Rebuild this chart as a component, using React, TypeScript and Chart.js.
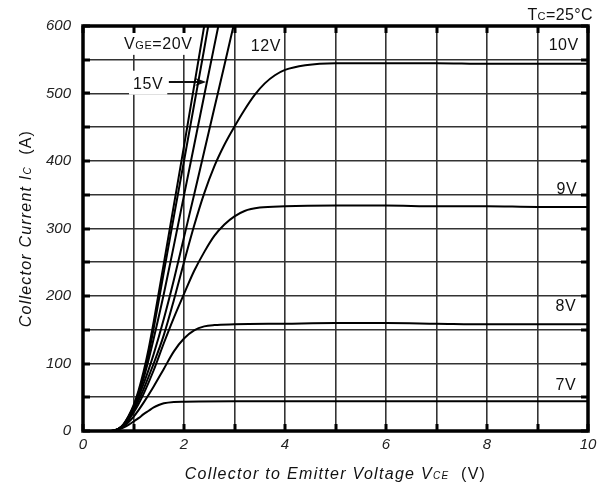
import React, { useEffect, useRef } from 'react';
import { Chart, registerables } from 'chart.js';

Chart.register(...registerables);

// ---- axes ----
const X_MIN = 0;
const X_MAX = 10;
const X_STEP = 1;
const X_LABEL_EVERY = 2;
const Y_MIN = 0;
const Y_MAX = 600;
const Y_STEP = 50;
const Y_LABEL_EVERY = 100;

// ---- series (VCE [V], IC [A]) ----
const vge20V: [number, number][] = [
  [0, 0], [0.5, 0], [0.6, 0.5], [0.7, 3], [0.8, 10], [0.9, 22], [1.0, 38], [1.1, 60], [1.2, 88],
  [1.3, 122], [1.4, 162], [1.6, 248], [1.8, 335], [2.0, 422], [2.2, 511], [2.4, 600],
];
const vge15V: [number, number][] = [
  [0, 0], [0.5, 0], [0.6, 0.5], [0.7, 3], [0.8, 9.5], [0.9, 21], [1.0, 36], [1.1, 57], [1.2, 83],
  [1.3, 114], [1.4, 152], [1.6, 235], [1.8, 318], [2.0, 400], [2.2, 483], [2.4, 566], [2.48, 600],
];
const vge13V: [number, number][] = [
  [0, 0], [0.5, 0], [0.6, 0.5], [0.7, 3], [0.8, 9], [0.9, 20], [1.0, 34], [1.1, 54], [1.2, 78],
  [1.3, 106], [1.4, 137], [1.6, 203], [1.8, 275], [2.0, 349], [2.2, 423], [2.4, 497], [2.68, 600],
];
const vge12V: [number, number][] = [
  [0, 0], [0.5, 0], [0.6, 0.5], [0.7, 3], [0.8, 8.5], [0.9, 19], [1.0, 32], [1.1, 50], [1.2, 70],
  [1.3, 91], [1.4, 114], [1.6, 166], [1.8, 224], [2.0, 287], [2.2, 350], [2.4, 414], [2.6, 478],
  [2.8, 542], [2.98, 600],
];
const vge10V: [number, number][] = [
  [0, 0], [0.5, 0], [0.6, 0.5], [0.7, 3], [0.8, 8], [0.9, 18], [1.0, 30], [1.1, 45], [1.2, 62],
  [1.4, 100], [1.6, 142], [1.8, 194], [2.0, 250], [2.2, 304], [2.4, 352], [2.6, 392], [2.8, 424],
  [3.0, 451], [3.2, 476], [3.4, 498], [3.6, 515], [3.8, 527], [4.0, 535], [4.4, 542], [5.0, 545],
  [6, 545], [7, 545], [8, 544], [9, 544], [10, 544],
];
const vge9V: [number, number][] = [
  [0, 0], [0.5, 0], [0.6, 0.5], [0.7, 2.5], [0.8, 7.5], [0.9, 16], [1.0, 27], [1.1, 40], [1.2, 55],
  [1.4, 90], [1.6, 130], [1.8, 168], [2.0, 203], [2.2, 237], [2.4, 265], [2.6, 289], [2.8, 306],
  [3.0, 318], [3.2, 326], [3.5, 331], [4, 333], [5, 334], [6, 334], [7, 333], [8, 333], [9, 332], [10, 332],
];
const vge8V: [number, number][] = [
  [0, 0], [0.5, 0], [0.6, 0.5], [0.7, 2.5], [0.8, 6.5], [0.9, 13], [1.0, 21], [1.1, 31], [1.2, 42],
  [1.4, 66], [1.6, 92], [1.8, 118], [2.0, 137], [2.2, 149], [2.4, 155], [2.6, 157], [3, 158], [4, 159],
  [5, 160], [6, 160], [7, 159], [8, 158], [9, 158], [10, 158],
];
const vge7V: [number, number][] = [
  [0, 0], [0.5, 0], [0.6, 0.5], [0.7, 2], [0.8, 5], [0.9, 9], [1.0, 14], [1.1, 19], [1.2, 25],
  [1.3, 30], [1.4, 35], [1.5, 38.5], [1.6, 41], [1.8, 43], [2.0, 43.5], [3, 44], [5, 44], [10, 44],
];

const seriesNames = ['VGE=20V', 'VGE=15V', 'VGE=13V', 'VGE=12V', 'VGE=10V', 'VGE=9V', 'VGE=8V', 'VGE=7V'];
const seriesData = [vge20V, vge15V, vge13V, vge12V, vge10V, vge9V, vge8V, vge7V];

// ---- annotation texts (anchored in data coordinates) ----
type Part = [string, 'big' | 'small'];
const curveTags: { parts: Part[]; at: [number, number]; bg: boolean }[] = [
  { parts: [['V', 'big'], ['GE', 'small'], ['=20V', 'big']], at: [1.49, 575], bg: true },
  { parts: [['15V', 'big']], at: [1.29, 516], bg: true },
  { parts: [['12V', 'big']], at: [3.62, 572], bg: false },
  { parts: [['10V', 'big']], at: [9.52, 573], bg: false },
  { parts: [['9V', 'big']], at: [9.58, 360], bg: false },
  { parts: [['8V', 'big']], at: [9.56, 187], bg: false },
  { parts: [['7V', 'big']], at: [9.56, 70], bg: false },
];
const arrowFrom: [number, number] = [1.7, 517];
const arrowTo: [number, number] = [2.44, 517];

const FAMILY = "'Liberation Sans', Arial, sans-serif";

function drawRich(
  ctx: CanvasRenderingContext2D,
  parts: { text: string; font: string }[],
  cx: number,
  baseline: number,
  align: 'center' | 'right' | 'left',
  spacing = 0
) {
  ctx.save();
  (ctx as any).letterSpacing = spacing + 'px';
  ctx.textAlign = 'left';
  ctx.textBaseline = 'alphabetic';
  const widths = parts.map((p) => {
    ctx.font = p.font;
    return ctx.measureText(p.text).width;
  });
  const total = widths.reduce((a, b) => a + b, 0);
  let x = align === 'center' ? cx - total / 2 : align === 'right' ? cx - total : cx;
  parts.forEach((p, i) => {
    ctx.font = p.font;
    ctx.fillText(p.text, x, baseline);
    x += widths[i];
  });
  ctx.restore();
  return total;
}

function measureRich(ctx: CanvasRenderingContext2D, parts: { text: string; font: string }[], spacing = 0) {
  ctx.save();
  (ctx as any).letterSpacing = spacing + 'px';
  let w = 0;
  parts.forEach((p) => {
    ctx.font = p.font;
    w += ctx.measureText(p.text).width;
  });
  ctx.restore();
  return w;
}

const annotatePlugin = {
  id: 'annotate',
  beforeDatasetsDraw(chart: any) {
    const { ctx, scales } = chart;
    const xs = scales.x;
    const ys = scales.y;
    const big = `16px ${FAMILY}`;
    const small = `11px ${FAMILY}`;
    ctx.save();
    curveTags.forEach((t) => {
      const cx = xs.getPixelForValue(t.at[0]);
      const cy = ys.getPixelForValue(t.at[1]);
      const parts = t.parts.map(([text, s]) => ({ text, font: s === 'big' ? big : small }));
      const w = measureRich(ctx, parts, 0.6);
      if (t.bg) {
        ctx.fillStyle = '#fff';
        ctx.fillRect(cx - w / 2 - 4, cy - 12, w + 8, 24);
      }
      ctx.fillStyle = '#111';
      drawRich(ctx, parts, cx, cy + 6, 'center', 0.6);
    });
    // arrow
    const x1 = xs.getPixelForValue(arrowFrom[0]);
    const y1 = ys.getPixelForValue(arrowFrom[1]);
    const x2 = xs.getPixelForValue(arrowTo[0]);
    const y2 = ys.getPixelForValue(arrowTo[1]);
    ctx.strokeStyle = '#111';
    ctx.lineWidth = 2;
    ctx.beginPath();
    ctx.moveTo(x1, y1);
    ctx.lineTo(x2 - 6, y2);
    ctx.stroke();
    ctx.beginPath();
    ctx.moveTo(x2, y2);
    ctx.lineTo(x2 - 11, y2 - 4);
    ctx.lineTo(x2 - 8, y2);
    ctx.lineTo(x2 - 11, y2 + 4);
    ctx.closePath();
    ctx.fillStyle = '#111';
    ctx.fill();
    ctx.restore();
  },
  afterDraw(chart: any) {
    const { ctx, chartArea, scales } = chart;
    const { left, right, top, bottom } = chartArea;
    const xs = scales.x;
    const ys = scales.y;
    ctx.save();
    // inward tick marks
    ctx.strokeStyle = '#000';
    ctx.lineWidth = 3;
    ctx.beginPath();
    for (let v = X_MIN; v <= X_MAX; v += X_STEP) {
      const px = Math.round(xs.getPixelForValue(v));
      ctx.moveTo(px, bottom);
      ctx.lineTo(px, bottom - 7);
      ctx.moveTo(px, top);
      ctx.lineTo(px, top + 7);
    }
    for (let v = Y_MIN; v <= Y_MAX; v += Y_STEP) {
      const py = Math.round(ys.getPixelForValue(v));
      ctx.moveTo(left, py);
      ctx.lineTo(left + 7, py);
      ctx.moveTo(right, py);
      ctx.lineTo(right - 7, py);
    }
    ctx.stroke();
    // frame
    ctx.lineWidth = 3.5;
    ctx.strokeRect(left, top, right - left, bottom - top);

    ctx.fillStyle = '#111';
    // Tc label
    drawRich(
      ctx,
      [
        { text: 'T', font: `16px ${FAMILY}` },
        { text: 'C', font: `11px ${FAMILY}` },
        { text: '=25°C', font: `16px ${FAMILY}` },
      ],
      right + 5,
      top - 6,
      'right',
      0.4
    );
    // x title
    const it16 = `italic 16px ${FAMILY}`;
    const it10 = `italic 10px ${FAMILY}`;
    const n16 = `16px ${FAMILY}`;
    drawRich(
      ctx,
      [
        { text: 'Collector to Emitter Voltage V', font: it16 },
        { text: 'CE', font: it10 },
        { text: '  (V)', font: n16 },
      ],
      (left + right) / 2,
      bottom + 48,
      'center',
      1.3
    );
    // y title
    ctx.save();
    ctx.translate(31, (top + bottom) / 2);
    ctx.rotate(-Math.PI / 2);
    drawRich(
      ctx,
      [
        { text: 'Collector Current I', font: it16 },
        { text: 'C', font: it10 },
        { text: '  (A)', font: n16 },
      ],
      0,
      0,
      'center',
      1.2
    );
    ctx.restore();
    ctx.restore();
  },
};

export default function App() {
  const ref = useRef<HTMLCanvasElement | null>(null);
  useEffect(() => {
    if (!ref.current) return;
    const chart = new Chart(ref.current, {
      type: 'line',
      data: {
        datasets: seriesData.map((d, i) => ({
          label: seriesNames[i],
          data: d.map(([x, y]) => ({ x, y })),
          borderColor: '#000',
          borderWidth: 2,
          pointRadius: 0,
          fill: false,
          cubicInterpolationMode: 'monotone' as const,
        })),
      },
      options: {
        animation: false,
        responsive: false,
        devicePixelRatio: 1,
        layout: { padding: { top: 26, right: 22, left: 0, bottom: 0 } },
        plugins: { legend: { display: false }, tooltip: { enabled: false }, title: { display: false } },
        scales: {
          x: {
            type: 'linear',
            min: X_MIN,
            max: X_MAX,
            afterFit: (s: any) => {
              s.height = 64;
            },
            border: { display: false },
            grid: { color: '#333', lineWidth: 1.6, drawTicks: false },
            ticks: {
              stepSize: X_STEP,
              autoSkip: false,
              maxRotation: 0,
              padding: 5,
              color: '#222',
              font: { family: FAMILY, size: 15, style: 'italic' },
              callback: (v: any) => (Number(v) % X_LABEL_EVERY === 0 ? String(v) : ''),
            },
          },
          y: {
            type: 'linear',
            min: Y_MIN,
            max: Y_MAX,
            afterFit: (s: any) => {
              s.width = 83;
            },
            border: { display: false },
            grid: { color: '#333', lineWidth: 1.6, drawTicks: false },
            ticks: {
              stepSize: Y_STEP,
              autoSkip: false,
              padding: 12,
              color: '#222',
              font: { family: FAMILY, size: 15, style: 'italic' },
              callback: (v: any) => (Number(v) % Y_LABEL_EVERY === 0 ? String(v) : ''),
            },
          },
        },
      },
      plugins: [annotatePlugin],
    } as any);
    return () => chart.destroy();
  }, []);
  return (
    <div style={{ position: 'absolute', left: 0, top: 0, width: 610, height: 495, background: '#fff' }}>
      <canvas ref={ref} width={610} height={495} />
    </div>
  );
}
